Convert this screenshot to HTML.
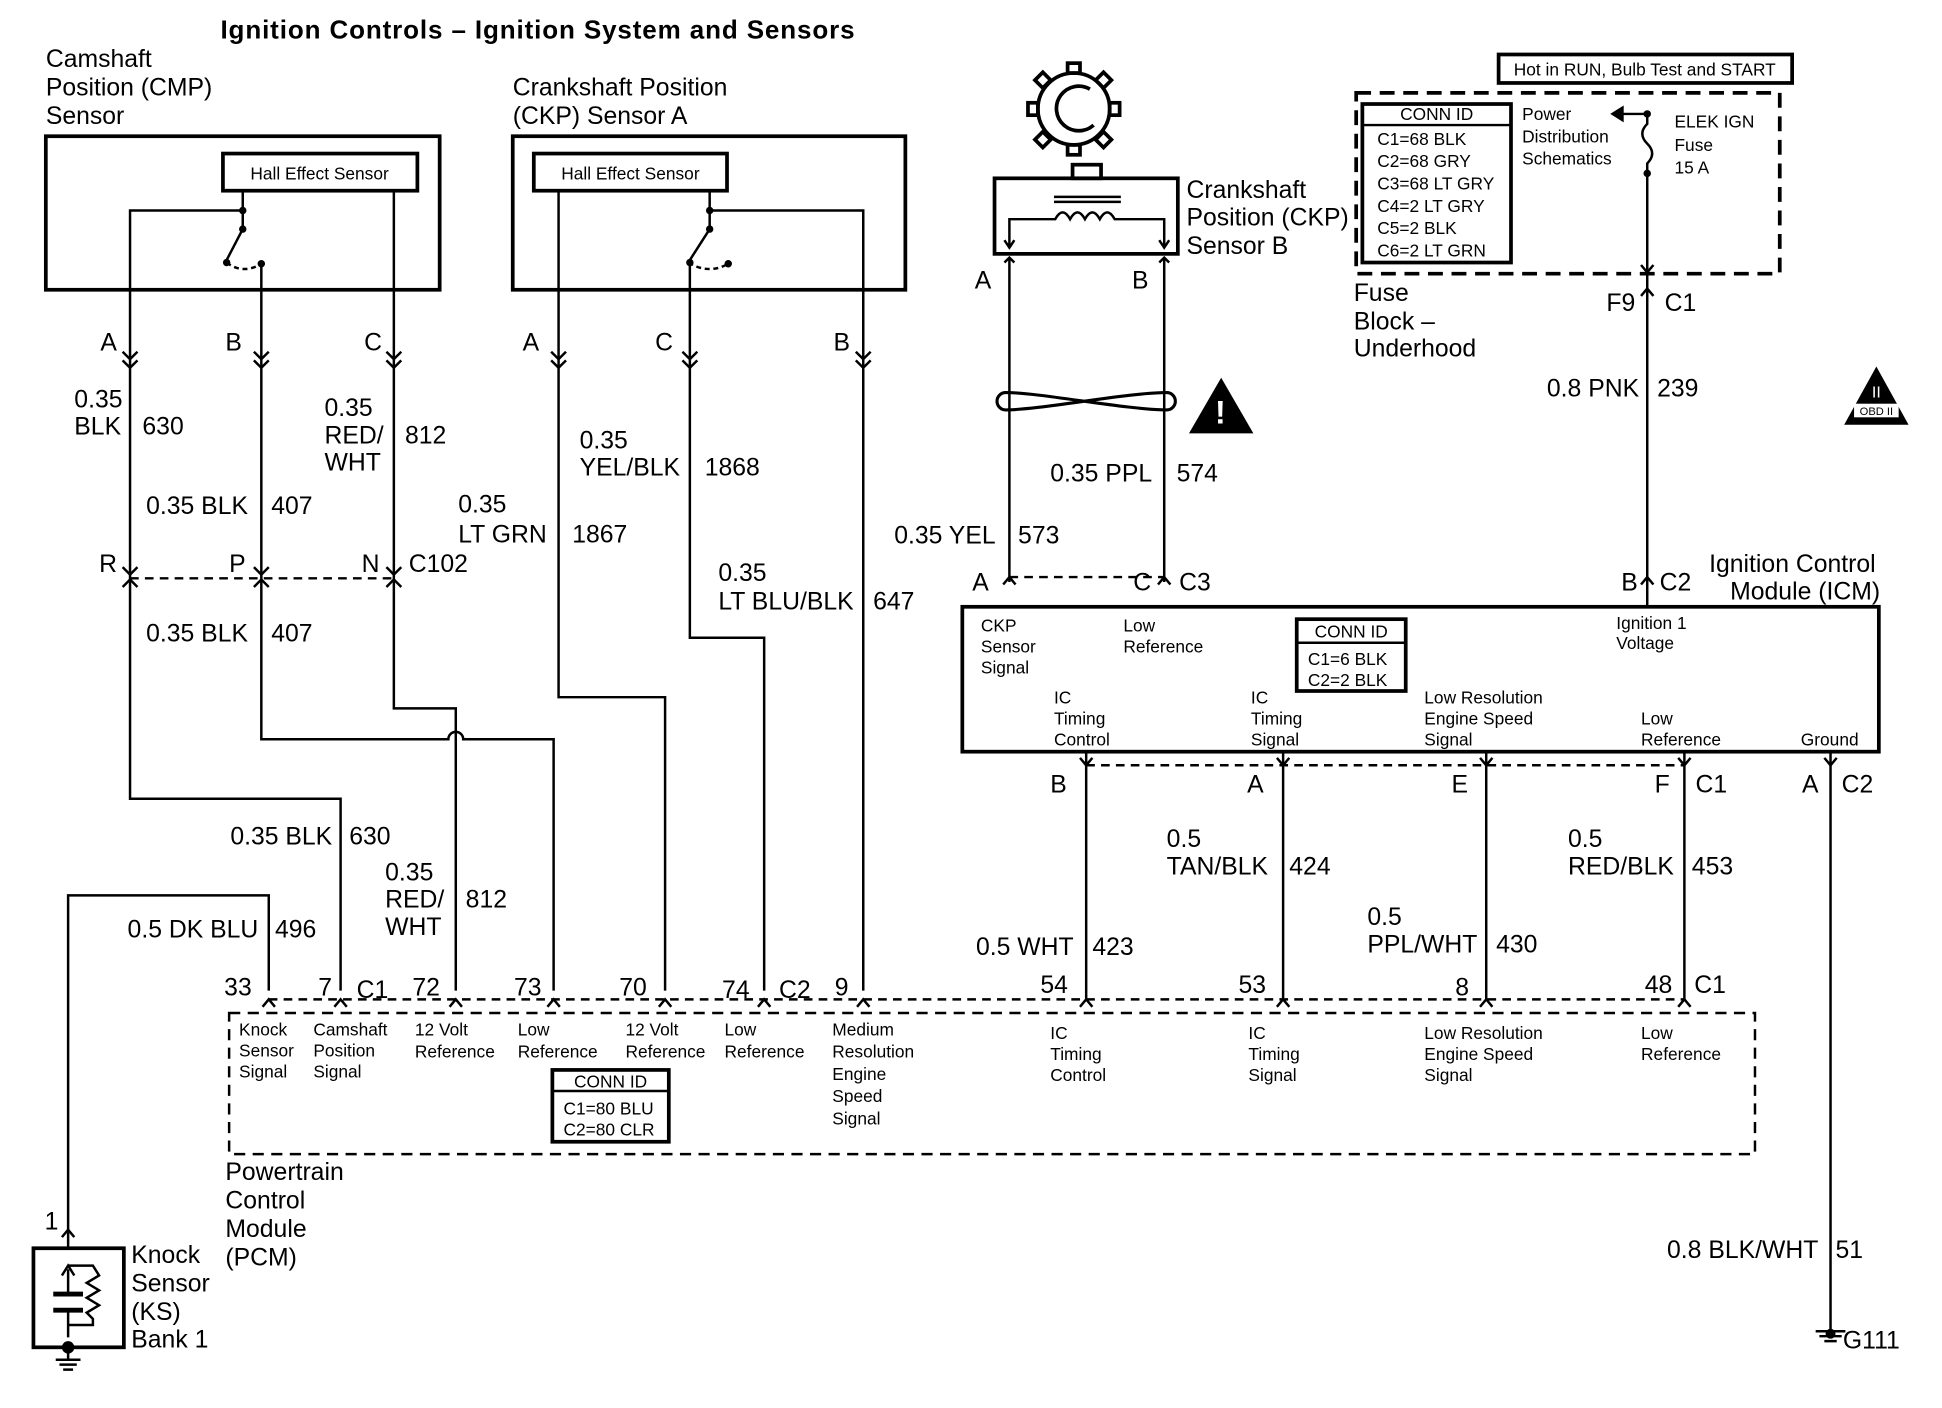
<!DOCTYPE html>
<html><head><meta charset="utf-8"><style>
html,body{margin:0;padding:0;background:#fff;}
svg{display:block;}
text{font-family:"Liberation Sans",Arial,sans-serif;fill:#000;}
.b{font-size:20px;}
.s{font-size:14px;}
.t{font-size:21px;font-weight:bold;}
</style></head><body>
<svg width="1942" height="1408" viewBox="0 0 1568 1137" preserveAspectRatio="none" xmlns="http://www.w3.org/2000/svg">
<g fill="none" stroke="#000" stroke-width="2">
<!-- CMP sensor -->
<rect x="37" y="110" width="318" height="124" stroke-width="3"/>
<rect x="180" y="124" width="157" height="30" stroke-width="3"/>
<path d="M196 154 V170 H105 V470 M196 170 V185 L183 210"/>
<path d="M183 212 Q196 222 211 213" stroke-dasharray="4 3"/>
<path d="M211 213 V470"/>
<path d="M318 154 V470"/>
<!-- CKP A -->
<rect x="414" y="110" width="317" height="124" stroke-width="3"/>
<rect x="431" y="124" width="156" height="30" stroke-width="3"/>
<path d="M451 154 V563 H537 V800"/>
<path d="M573 154 V170 H697 V800 M573 170 V185 L557 210"/>
<path d="M556 212 Q572 222 588 213" stroke-dasharray="4 3"/>
<path d="M557 213 V515 H617 V800"/>
<!-- left wire routing -->
<path d="M105 470 V645 H275 V800"/>
<path d="M211 470 V597 H362 A6 6 0 0 1 374 597 H447 V800"/>
<path d="M318 470 V572 H368 V800"/>
<path d="M217 800 V723 H55 V995"/>
<!-- C102 dashed -->
<path d="M105 467 H318" stroke-dasharray="7 5"/>
<!-- PCM row dashed -->
<path d="M217 807 H1360" stroke-dasharray="7 5"/>
<rect x="185" y="818" width="1232" height="114" stroke-dasharray="9 6"/>
<rect x="446" y="864" width="94" height="58" stroke-width="3"/>
<path d="M446 881 H540"/>
<!-- knock sensor -->
<rect x="27" y="1008" width="73" height="80" stroke-width="3"/>
<path d="M55 995 V1008 M55 1088 V1098 M45 1098 H65 M48 1102 H62 M51 1106 H59"/>
<path d="M55 1080 V1058 M55 1045 V1025 M55 1022 H75 L80 1030 L70 1036 L80 1042 L70 1048 L80 1054 L70 1060 L75 1065 V1070 H55"/>
<path d="M43 1045 H67 M43 1058 H67" stroke-width="4"/>
<path d="M50 1030 L55 1022 L60 1030"/>
<!-- CKP sensor B -->
<circle cx="867" cy="88" r="29" stroke-width="3"/>
<path d="M880 72 A18 18 0 1 0 883 101" stroke-width="3"/>
<g stroke-width="3">
<rect x="862" y="51" width="10" height="8"/><rect x="862" y="117" width="10" height="8"/>
<rect x="830" y="83" width="8" height="10"/><rect x="896" y="83" width="8" height="10"/>
<rect x="838" y="60" width="9" height="9" transform="rotate(45 842 64)"/>
<rect x="887" y="60" width="9" height="9" transform="rotate(45 891 64)"/>
<rect x="838" y="108" width="9" height="9" transform="rotate(45 842 112)"/>
<rect x="887" y="108" width="9" height="9" transform="rotate(45 891 112)"/>
</g>
<rect x="803" y="144" width="148" height="61" stroke-width="3"/>
<rect x="866" y="133" width="23" height="11" stroke-width="3"/>
<path d="M851 159 H905 M851 163 H905"/>
<path d="M815 200 V177 H852 Q858 166 864 177 Q870 166 876 177 Q882 166 888 177 Q894 166 900 177 H940 V200 M811 194 L815 200 L819 194 M936 194 L940 200 L944 194"/>
<path d="M815 208 V470 M940 208 V470"/>
<path d="M812 317 C840 317 910 331 942 331 A7 7 0 0 0 942 317 C910 317 840 331 812 331 A7 7 0 0 1 812 317Z" stroke-width="2.5"/>
<path d="M815 466 H940" stroke-dasharray="7 5"/>
<!-- fuse block -->
<rect x="1095" y="75" width="342" height="146" stroke-dasharray="12 7" stroke-width="3"/>
<rect x="1210" y="44" width="237" height="23" stroke-width="3"/>
<rect x="1100" y="84" width="120" height="128" stroke-width="3"/>
<path d="M1100 101 H1220"/>
<path d="M1330 92 V100 Q1322 108 1330 116 Q1338 124 1330 132 V490 M1306 92 H1330"/>
<path d="M1310 87 L1302 92 L1310 97 Z" fill="#000"/>
<!-- ICM -->
<rect x="777" y="490" width="740" height="117" stroke-width="3"/>
<rect x="1047" y="500" width="88" height="58" stroke-width="3"/>
<path d="M1047 519 H1135"/>
<path d="M877 607 V808 M1036 607 V808 M1200 607 V808 M1360 607 V808 M1478 607 V1075"/>
<path d="M877 618 H1360" stroke-dasharray="7 5"/>
<path d="M1466 1075 H1490 M1469 1079 H1487 M1473 1083 H1483"/>
<path d="M99 284 L105 290 L111 284 M99 291 L105 297 L111 291 M205 284 L211 290 L217 284 M205 291 L211 297 L217 291 M312 284 L318 290 L324 284 M312 291 L318 297 L324 291
M445 284 L451 290 L457 284 M445 291 L451 297 L457 291 M551 284 L557 290 L563 284 M551 291 L557 297 L563 291 M691 284 L697 290 L703 284 M691 291 L697 297 L703 291
M99 458 L105 464 L111 458 M205 458 L211 464 L217 458 M312 458 L318 464 L324 458
M99 474 L105 468 L111 474 M205 474 L211 468 L217 474 M312 474 L318 468 L324 474
M811 212 L815 208 L819 212 M936 212 L940 208 L944 212
M810 472 L815 466 L820 472 M935 472 L940 466 L945 472 M1325 472 L1330 466 L1335 472
M872 612 L877 618 L882 612 M1031 612 L1036 618 L1041 612 M1195 612 L1200 618 L1205 612 M1355 612 L1360 618 L1365 612 M1473 612 L1478 618 L1483 612
M1325 214 L1330 220 L1335 214 M1325 239 L1330 233 L1335 239
M212 813 L217 807 L222 813 M270 813 L275 807 L280 813 M363 813 L368 807 L373 813 M442 813 L447 807 L452 813 M532 813 L537 807 L542 813 M612 813 L617 807 L622 813 M692 813 L697 807 L702 813 M872 813 L877 807 L882 813 M1031 813 L1036 807 L1041 813 M1195 813 L1200 807 L1205 813 M1355 813 L1360 807 L1365 813
M50 999 L55 993 L60 999"/>
</g>
<circle cx="196" cy="170" r="3"/><circle cx="196" cy="185" r="3"/><circle cx="183" cy="212" r="3"/><circle cx="211" cy="213" r="3"/>
<circle cx="573" cy="170" r="3"/><circle cx="573" cy="185" r="3"/><circle cx="557" cy="212" r="3"/><circle cx="588" cy="213" r="3"/>
<circle cx="1330" cy="92" r="3"/><circle cx="1330" cy="140" r="3"/>
<circle cx="55" cy="1088" r="5"/>
<circle cx="1478" cy="1077" r="4"/>
<path d="M960 350 L986 305 L1012 350 Z"/>
<text x="981" y="342" style="font-size:26px;font-weight:bold;fill:#fff">!</text>
<path d="M1489 343 L1515 296 L1541 343 Z"/>
<rect x="1497" y="326" width="36" height="11" fill="#fff"/>
<text x="1515" y="335" class="s" style="font-size:9px" text-anchor="middle">OBD II</text>
<text x="1515" y="321" style="font-size:13px;fill:#fff" text-anchor="middle">II</text>

<text x="178" y="31" class="t" textLength="512">Ignition Controls – Ignition System and  Sensors</text>
<g class="b">
<text x="37" y="54">Camshaft</text><text x="37" y="77">Position (CMP)</text><text x="37" y="100">Sensor</text>
<text x="414" y="77">Crankshaft Position</text><text x="414" y="100">(CKP) Sensor A</text>
<text x="958" y="160">Crankshaft</text><text x="958" y="182">Position (CKP)</text><text x="958" y="205">Sensor B</text>
<text x="1093" y="243">Fuse</text><text x="1093" y="266">Block –</text><text x="1093" y="288">Underhood</text>
<text x="1380" y="462">Ignition Control</text><text x="1518" y="484" text-anchor="end">Module (ICM)</text>
<text x="182" y="953">Powertrain</text><text x="182" y="976">Control</text><text x="182" y="999">Module</text><text x="182" y="1022">(PCM)</text>
<text x="106" y="1020">Knock</text><text x="106" y="1043">Sensor</text><text x="106" y="1066">(KS)</text><text x="106" y="1088">Bank 1</text>
<text x="81" y="283">A</text><text x="182" y="283">B</text><text x="294" y="283">C</text>
<text x="422" y="283">A</text><text x="529" y="283">C</text><text x="673" y="283">B</text>
<text x="80" y="462">R</text><text x="185" y="462">P</text><text x="292" y="462">N</text><text x="330" y="462">C102</text>
<text x="60" y="329">0.35</text><text x="60" y="351">BLK</text><text x="115" y="351">630</text>
<text x="118" y="415">0.35 BLK</text><text x="219" y="415">407</text>
<text x="262" y="336">0.35</text><text x="262" y="358">RED/</text><text x="262" y="380">WHT</text><text x="327" y="358">812</text>
<text x="118" y="518">0.35 BLK</text><text x="219" y="518">407</text>
<text x="186" y="682">0.35 BLK</text><text x="282" y="682">630</text>
<text x="311" y="711">0.35</text><text x="311" y="733">RED/</text><text x="311" y="755">WHT</text><text x="376" y="733">812</text>
<text x="103" y="757">0.5 DK BLU</text><text x="222" y="757">496</text>
<text x="468" y="362">0.35</text><text x="468" y="384">YEL/BLK</text><text x="569" y="384">1868</text>
<text x="370" y="414">0.35</text><text x="370" y="438">LT GRN</text><text x="462" y="438">1867</text>
<text x="580" y="469">0.35</text><text x="580" y="492">LT BLU/BLK</text><text x="705" y="492">647</text>
<text x="787" y="233">A</text><text x="914" y="233">B</text>
<text x="848" y="389">0.35 PPL</text><text x="950" y="389">574</text>
<text x="722" y="439">0.35 YEL</text><text x="822" y="439">573</text>
<text x="785" y="477">A</text><text x="915" y="477">C</text><text x="952" y="477">C3</text>
<text x="1309" y="477">B</text><text x="1340" y="477">C2</text>
<text x="1297" y="251">F9</text><text x="1344" y="251">C1</text>
<text x="1249" y="320">0.8 PNK</text><text x="1338" y="320">239</text>
<text x="848" y="640">B</text><text x="1007" y="640">A</text><text x="1172" y="640">E</text><text x="1336" y="640">F</text><text x="1369" y="640">C1</text>
<text x="1455" y="640">A</text><text x="1487" y="640">C2</text>
<text x="942" y="684">0.5</text><text x="942" y="706">TAN/BLK</text><text x="1041" y="706">424</text>
<text x="1266" y="684">0.5</text><text x="1266" y="706">RED/BLK</text><text x="1366" y="706">453</text>
<text x="788" y="771">0.5 WHT</text><text x="882" y="771">423</text>
<text x="1104" y="747">0.5</text><text x="1104" y="769">PPL/WHT</text><text x="1208" y="769">430</text>
<text x="181" y="804">33</text><text x="257" y="804">7</text><text x="288" y="806">C1</text><text x="333" y="804">72</text><text x="415" y="804">73</text><text x="500" y="804">70</text><text x="583" y="806">74</text><text x="629" y="806">C2</text><text x="674" y="804">9</text>
<text x="840" y="802">54</text><text x="1000" y="802">53</text><text x="1175" y="804">8</text><text x="1328" y="802">48</text><text x="1368" y="802">C1</text>
<text x="36" y="993">1</text>
<text x="1346" y="1016">0.8 BLK/WHT</text><text x="1482" y="1016">51</text>
<text x="1488" y="1089">G111</text>
</g>
<g class="s">
<text x="258" y="145" text-anchor="middle">Hall Effect Sensor</text>
<text x="509" y="145" text-anchor="middle">Hall Effect Sensor</text>
<text x="1328" y="61" text-anchor="middle">Hot in RUN, Bulb Test and START</text>
<text x="1160" y="97" text-anchor="middle">CONN ID</text>
<text x="1112" y="117">C1=68 BLK</text><text x="1112" y="135">C2=68 GRY</text><text x="1112" y="153">C3=68 LT GRY</text><text x="1112" y="171">C4=2 LT GRY</text><text x="1112" y="189">C5=2 BLK</text><text x="1112" y="207">C6=2 LT GRN</text>
<text x="1229" y="97">Power</text><text x="1229" y="115">Distribution</text><text x="1229" y="133">Schematics</text>
<text x="1352" y="103">ELEK IGN</text><text x="1352" y="122">Fuse</text><text x="1352" y="140">15 A</text>
<text x="792" y="510">CKP</text><text x="792" y="527">Sensor</text><text x="792" y="544">Signal</text>
<text x="907" y="510">Low</text><text x="907" y="527">Reference</text>
<text x="1091" y="515" text-anchor="middle">CONN ID</text><text x="1056" y="537">C1=6 BLK</text><text x="1056" y="554">C2=2 BLK</text>
<text x="1305" y="508">Ignition 1</text><text x="1305" y="524">Voltage</text>
<text x="851" y="568">IC</text><text x="851" y="585">Timing</text><text x="851" y="602">Control</text>
<text x="1010" y="568">IC</text><text x="1010" y="585">Timing</text><text x="1010" y="602">Signal</text>
<text x="1150" y="568">Low Resolution</text><text x="1150" y="585">Engine Speed</text><text x="1150" y="602">Signal</text>
<text x="1325" y="585">Low</text><text x="1325" y="602">Reference</text>
<text x="1454" y="602">Ground</text>
<text x="193" y="836">Knock</text><text x="193" y="853">Sensor</text><text x="193" y="870">Signal</text>
<text x="253" y="836">Camshaft</text><text x="253" y="853">Position</text><text x="253" y="870">Signal</text>
<text x="335" y="836">12 Volt</text><text x="335" y="854">Reference</text>
<text x="418" y="836">Low</text><text x="418" y="854">Reference</text>
<text x="505" y="836">12 Volt</text><text x="505" y="854">Reference</text>
<text x="585" y="836">Low</text><text x="585" y="854">Reference</text>
<text x="672" y="836">Medium</text><text x="672" y="854">Resolution</text><text x="672" y="872">Engine</text><text x="672" y="890">Speed</text><text x="672" y="908">Signal</text>
<text x="493" y="878" text-anchor="middle">CONN ID</text><text x="455" y="900">C1=80 BLU</text><text x="455" y="917">C2=80 CLR</text>
<text x="848" y="839">IC</text><text x="848" y="856">Timing</text><text x="848" y="873">Control</text>
<text x="1008" y="839">IC</text><text x="1008" y="856">Timing</text><text x="1008" y="873">Signal</text>
<text x="1150" y="839">Low Resolution</text><text x="1150" y="856">Engine Speed</text><text x="1150" y="873">Signal</text>
<text x="1325" y="839">Low</text><text x="1325" y="856">Reference</text>
</g>
</svg>
</body></html>
